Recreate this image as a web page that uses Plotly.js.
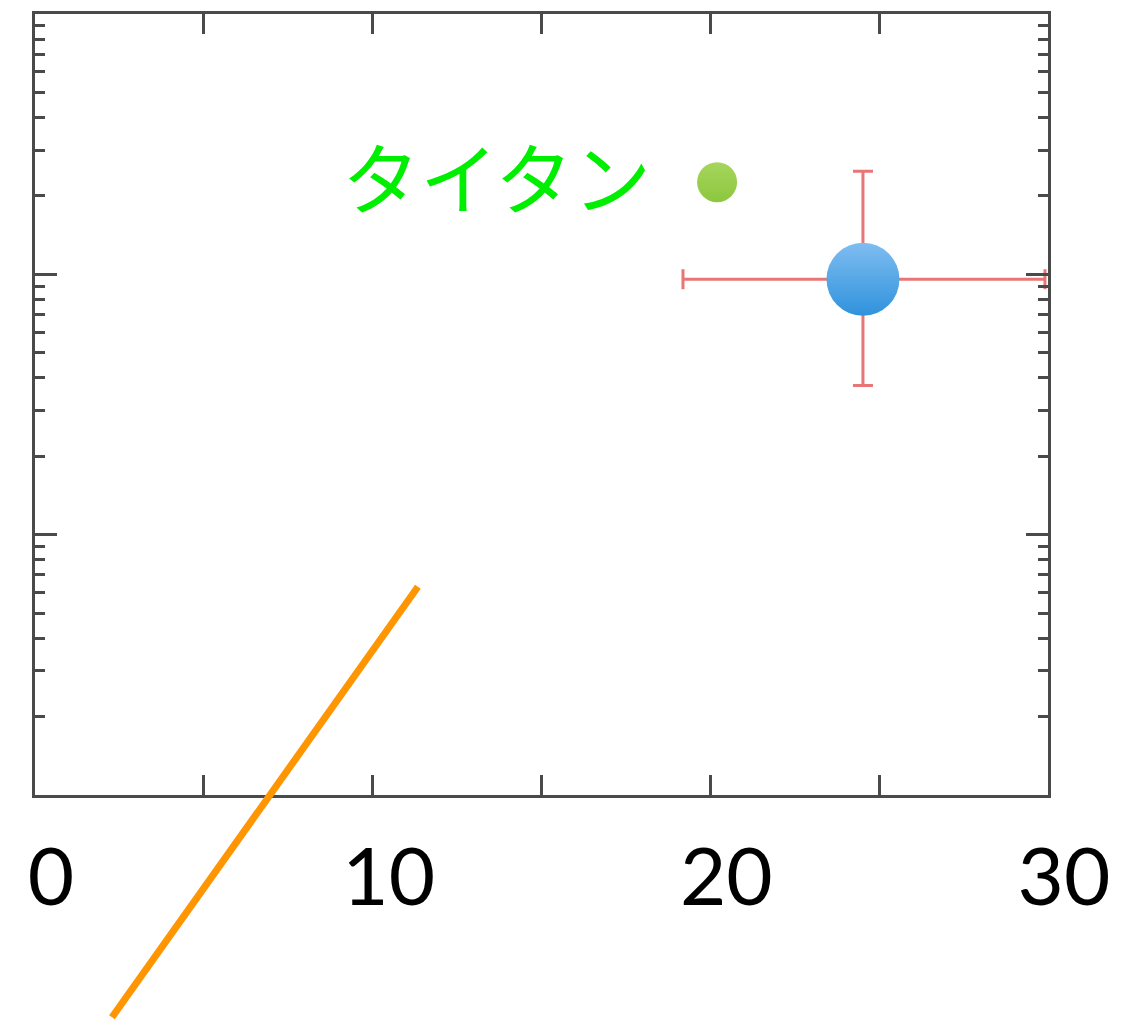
<!DOCTYPE html>
<html>
<head>
<meta charset="utf-8">
<script src="https://cdn.plot.ly/plotly-3.0.1.min.js"></script>
<style>html,body{margin:0;padding:0;background:#fff;}#chart{width:1140px;height:1023px;}</style>
</head>
<body>
<div id="chart"></div>
<script>
// ---- data ----
const xTickVals = [0, 5, 10, 15, 20, 25, 30];
const xTickText = ['0', '', '10', '', '20', '', '30'];
const yMajorVals = [1, 10, 100, 1000];
const yMinorVals = [2,3,4,5,6,7,8,9,20,30,40,50,60,70,80,90,200,300,400,500,600,700,800,900];

const mainX = [24.52];
const mainY = [95.7];
const mainErrXPlus = [5.39];
const mainErrXMinus = [5.33];
const mainErrYPlus = [153];
const mainErrYMinus = [58.3];

const titanX = [20.2];
const titanY = [226];
const titanLabel = 'タイタン';
const titanLabelX = 13.68;
const titanLabelY = 240;

const lineX = [2.28, 11.34];
const lineY = [0.14, 6.31];

// ---- layout geometry ----
const W = 1140, H = 1023;
const px0 = 35, px1 = 1048, pyTop = 14, pyBot = 795;
const xMin = 0, xMax = 30, yLogMin = 0, yLogMax = 3;
const pxPerX = (px1 - px0) / (xMax - xMin);
const pxPerDec = (pyBot - pyTop) / (yLogMax - yLogMin);

const axisColor = '#4a4a4a';

const traces = [
  {
    x: lineX, y: lineY, xaxis: 'x2', yaxis: 'y2',
    mode: 'lines', line: {color: '#ff9500', width: 7},
    hoverinfo: 'skip', showlegend: false
  },
  {
    x: titanX, y: titanY, mode: 'markers',
    marker: {size: 40, color: '#a6d65c', gradient: {type: 'vertical', color: '#8cc63e'}, line: {width: 0}},
    showlegend: false
  },
  {
    x: mainX, y: mainY, mode: 'markers',
    marker: {size: 73, color: '#7fbdf1', gradient: {type: 'vertical', color: '#2f92dc'}, line: {width: 0}},
    error_x: {type: 'data', symmetric: false, array: mainErrXPlus, arrayminus: mainErrXMinus, color: '#e87676', thickness: 3, width: 10},
    error_y: {type: 'data', symmetric: false, array: mainErrYPlus, arrayminus: mainErrYMinus, color: '#e87676', thickness: 3, width: 10},
    showlegend: false
  }
];

const layout = {
  width: W, height: H,
  margin: {l: 0, r: 0, t: 0, b: 0},
  paper_bgcolor: '#ffffff', plot_bgcolor: 'rgba(0,0,0,0)',
  showlegend: false,
  font: {family: 'Lato, "Noto Sans", sans-serif', color: '#000'},
  xaxis: {
    domain: [px0 / W, px1 / W],
    range: [xMin, xMax],
    tickmode: 'array', tickvals: xTickVals, ticktext: xTickText,
    ticks: 'inside', ticklen: 20, tickwidth: 3, tickcolor: axisColor,
    showline: true, linewidth: 3, linecolor: axisColor, mirror: 'ticks',
    showgrid: false, zeroline: false,
    tickfont: {size: 80, family: 'Lato, "Noto Sans", sans-serif', color: '#000'},
    ticklabelshift: 16, ticklabelstandoff: 11
  },
  yaxis: {
    domain: [(H - pyBot) / H, (H - pyTop) / H],
    type: 'log', range: [yLogMin, yLogMax],
    tickmode: 'array', tickvals: yMajorVals,
    ticks: 'inside', ticklen: 22, tickwidth: 3, tickcolor: axisColor,
    minor: {tickmode: 'array', tickvals: yMinorVals, ticks: 'inside', ticklen: 10, tickwidth: 3, tickcolor: axisColor},
    showticklabels: false,
    showline: true, linewidth: 3, linecolor: axisColor, mirror: 'ticks',
    showgrid: false, zeroline: false
  },
  xaxis2: {
    domain: [0, 1], anchor: 'y2',
    range: [xMin - px0 / pxPerX, xMin + (W - px0) / pxPerX],
    visible: false, showgrid: false, zeroline: false, fixedrange: true
  },
  yaxis2: {
    domain: [0, 1], anchor: 'x2', type: 'log',
    range: [yLogMin - (H - pyBot) / pxPerDec, yLogMin + pyBot / pxPerDec],
    visible: false, showgrid: false, zeroline: false, fixedrange: true
  },
  annotations: [{
    x: titanLabelX, y: Math.log10(titanLabelY), xref: 'x', yref: 'y',
    text: titanLabel, showarrow: false,
    xanchor: 'center', yanchor: 'middle',
    font: {family: '"Noto Sans CJK JP", sans-serif', size: 78, color: '#00ee00'}
  }]
};

Plotly.newPlot('chart', traces, layout, {staticPlot: true, displayModeBar: false});
</script>
</body>
</html>
